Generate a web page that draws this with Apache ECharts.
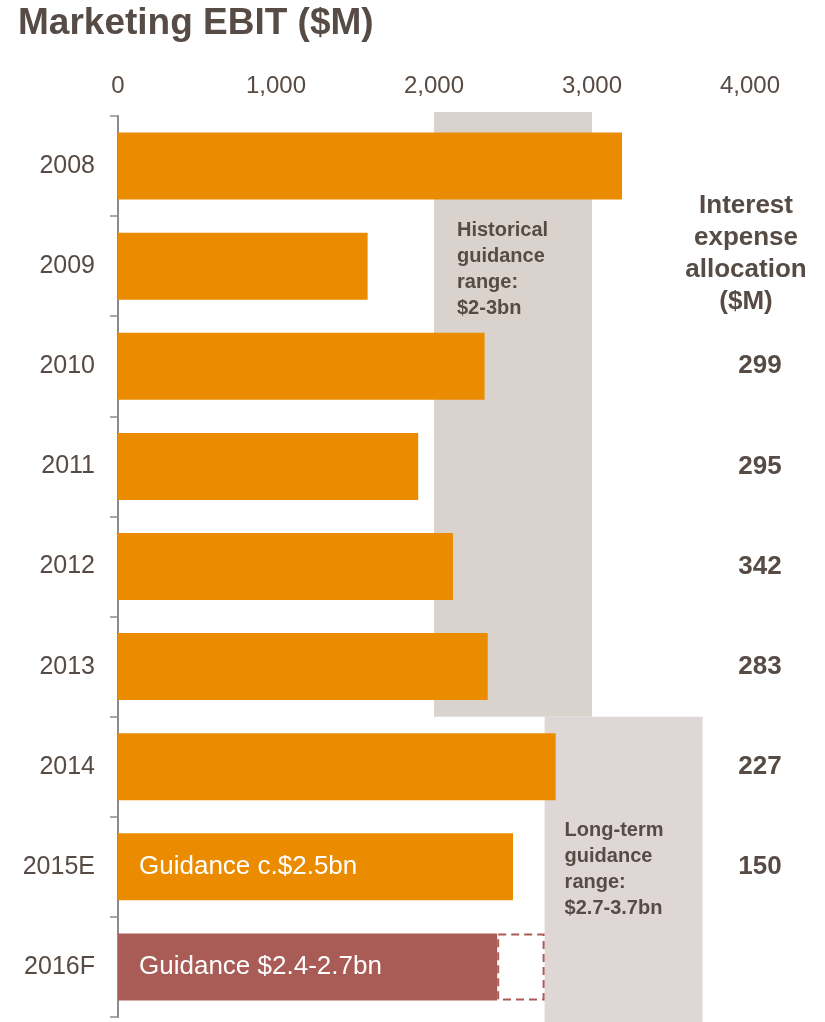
<!DOCTYPE html>
<html>
<head>
<meta charset="utf-8">
<title>Marketing EBIT ($M)</title>
<script src="https://cdn.jsdelivr.net/npm/echarts@6/dist/echarts.min.js"></script>
<style>
  html, body { margin: 0; padding: 0; background: #ffffff; }
  #chart { width: 825px; height: 1022px; }
</style>
</head>
<body>
<div id="chart"></div>
<script>
// Fiscal years shown on the category axis
const years = ['2008', '2009', '2010', '2011', '2012', '2013', '2014', '2015E', '2016F'];
// Marketing EBIT per year ($M)
const ebit = [3190, 1580, 2320, 1900, 2120, 2340, 2770, 2500, 2400];
// Upper end of the 2016F guidance range ($M)
const guidanceHigh = [null, null, null, null, null, null, null, null, 2700];
// Text written inside the guidance bars
const barNotes = ['', '', '', '', '', '', '', 'Guidance c.$2.5bn', 'Guidance $2.4-2.7bn'];
// Interest expense allocation per year ($M)
const interest = [null, null, 299, 295, 342, 283, 227, 150, null];
// X-axis ticks
const xTicks = [0, 1000, 2000, 3000, 4000];
// Guidance ranges
const rangeLow = [2000, 2700];
const rangeHigh = [3000, 3700];
const rangeFrom = ['2008', '2014'];
const rangeTo = ['2013', '2016F'];
const rangeTextAt = ['2009', '2015E'];
const rangeText = [
  'Historical\nguidance\nrange:\n$2-3bn',
  'Long-term\nguidance\nrange:\n$2.7-3.7bn'
];

const FONT = '"Liberation Sans", Arial, sans-serif';
const TEXT = '#574B45';
const ORANGE = '#EB8C00';
const RED = '#A95B55';
const rangeColors = ['#DAD3CD', '#DFD7D6'];
const rangePad = [23, 20];

const rangeData = rangeLow.map((lo, i) => [
  lo, rangeHigh[i], years.indexOf(rangeFrom[i]), years.indexOf(rangeTo[i]), years.indexOf(rangeTextAt[i]), i
]);

const ebitData = ebit.map((v, i) => {
  const item = { value: v };
  if (years[i] === '2016F') item.itemStyle = { color: RED };
  if (barNotes[i]) {
    item.label = {
      show: true, position: 'insideLeft', distance: 21,
      formatter: barNotes[i], color: '#ffffff', fontSize: 26, fontFamily: FONT
    };
  }
  return item;
});

// Dashed segment from the lower to the upper guidance figure
const extension = guidanceHigh.map((h, i) => (h == null ? null : h - ebit[i]));

const chart = echarts.init(document.getElementById('chart'), null, { renderer: 'canvas' });

chart.setOption({
  animation: false,
  backgroundColor: '#ffffff',
  grid: { left: 118, right: 75, top: 116, bottom: 5, containLabel: false },
  xAxis: {
    type: 'value',
    position: 'top',
    min: xTicks[0],
    max: xTicks[xTicks.length - 1],
    interval: xTicks[1] - xTicks[0],
    axisLine: { show: false },
    axisTick: { show: false },
    splitLine: { show: false },
    axisLabel: {
      margin: 18,
      fontSize: 24,
      fontFamily: FONT,
      color: TEXT,
      formatter: v => v.toLocaleString('en-US')
    }
  },
  yAxis: [
    {
      type: 'category',
      data: years,
      inverse: true,
      axisLine: { show: true, lineStyle: { color: '#8C8C8C', width: 2 } },
      axisTick: { show: true, length: 8, lineStyle: { color: '#8C8C8C', width: 1.5 } },
      axisLabel: { margin: 23, fontSize: 25, fontFamily: FONT, color: TEXT, padding: [4, 0, 0, 0] }
    },
    {
      type: 'category',
      data: years,
      inverse: true,
      position: 'right',
      axisLine: { show: false },
      axisTick: { show: false },
      axisLabel: {
        margin: 10,
        align: 'center',
        fontSize: 26,
        fontWeight: 'bold',
        fontFamily: FONT,
        color: TEXT,
        padding: [4, 0, 0, 0],
        formatter: (v, i) => (interest[i] == null ? '' : String(interest[i]))
      }
    }
  ],
  graphic: [
    {
      type: 'text', left: 18, top: 5,
      style: { text: 'Marketing EBIT ($M)', font: 'bold 37px ' + FONT, fill: TEXT }
    },
    {
      type: 'text', x: 746, y: 190,
      style: {
        text: 'Interest\nexpense\nallocation\n($M)',
        font: 'bold 26px ' + FONT, fill: TEXT, align: 'center', lineHeight: 32
      }
    }
  ],
  series: [
    {
      // Guidance range boxes behind the bars
      type: 'custom',
      z: 1,
      silent: true,
      data: rangeData,
      encode: { x: [0, 1], y: [2, 3] },
      renderItem: (params, api) => {
        const band = api.size([0, 1])[1];
        const p0 = api.coord([api.value(0), api.value(2)]);
        const p1 = api.coord([api.value(1), api.value(3)]);
        const pt = api.coord([api.value(0), api.value(4)]);
        const i = api.value(5);
        let top = p0[1] - band / 2;
        let bottom = p1[1] + band / 2;
        if (api.value(2) === 0) top -= 4;
        if (api.value(3) === years.length - 1) bottom += 5;
        return {
          type: 'group',
          children: [
            {
              type: 'rect',
              shape: { x: p0[0], y: top, width: p1[0] - p0[0], height: bottom - top },
              style: { fill: rangeColors[i] }
            },
            {
              type: 'text',
              x: p0[0] + rangePad[i],
              y: pt[1] + 3,
              style: {
                text: rangeText[i],
                font: 'bold 20px ' + FONT,
                fill: TEXT,
                lineHeight: 26,
                verticalAlign: 'middle',
                align: 'left'
              }
            }
          ]
        };
      }
    },
    {
      name: 'EBIT',
      type: 'bar',
      stack: 'ebit',
      z: 3,
      barWidth: 67,
      itemStyle: { color: ORANGE },
      data: ebitData
    },
    {
      name: 'Guidance upper',
      type: 'bar',
      stack: 'ebit',
      z: 3,
      barWidth: 67,
      itemStyle: {
        color: 'rgba(255,255,255,0)',
        borderColor: RED,
        borderWidth: 2,
        borderType: [8, 5]
      },
      data: extension
    }
  ]
});
</script>
</body>
</html>
